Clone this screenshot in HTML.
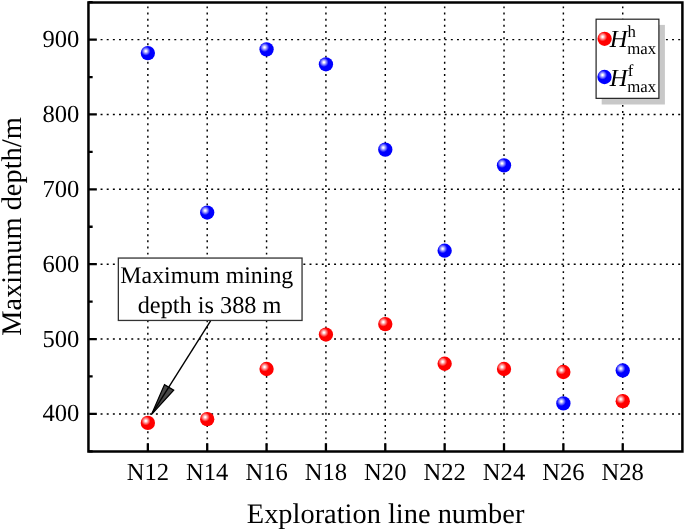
<!DOCTYPE html><html><head><meta charset="utf-8"><style>html,body{margin:0;padding:0;background:#fff;}svg{display:block;will-change:transform;}text{font-family:"Liberation Serif",serif;text-rendering:geometricPrecision;}</style></head><body>
<svg width="685" height="530" viewBox="0 0 685 530">
<defs><radialGradient id="gr" cx="0.36" cy="0.36" r="0.32" fx="0.36" fy="0.36"><stop offset="0" stop-color="#fff"/><stop offset="0.12" stop-color="#fff"/><stop offset="1" stop-color="#f00"/></radialGradient><radialGradient id="gb" cx="0.36" cy="0.36" r="0.32" fx="0.36" fy="0.36"><stop offset="0" stop-color="#fff"/><stop offset="0.12" stop-color="#fff"/><stop offset="1" stop-color="#00f"/></radialGradient></defs>
<path d="M100.58 413.90H682.40 M100.58 339.04H682.40 M100.58 264.18H682.40 M100.58 189.32H682.40 M100.58 114.46H682.40 M100.58 39.60H682.40" stroke="#000" stroke-width="1.45" stroke-dasharray="1.95 4.195" fill="none"/>
<path d="M147.85 6.39V451.50 M207.21 6.39V451.50 M266.57 6.39V451.50 M325.93 6.39V451.50 M385.29 6.39V451.50 M444.65 6.39V451.50 M504.01 6.39V451.50 M563.37 6.39V451.50 M622.73 6.39V451.50" stroke="#000" stroke-width="1.45" stroke-dasharray="1.95 4.207" fill="none"/>
<path d="M88.45 413.90H96.85 M88.45 339.04H96.85 M88.45 264.18H96.85 M88.45 189.32H96.85 M88.45 114.46H96.85 M88.45 39.60H96.85 M88.45 451.33H92.65 M88.45 376.47H92.65 M88.45 301.61H92.65 M88.45 226.75H92.65 M88.45 151.89H92.65 M88.45 77.03H92.65 M88.45 2.17H92.65 M147.85 451.50V443.30 M207.21 451.50V443.30 M266.57 451.50V443.30 M325.93 451.50V443.30 M385.29 451.50V443.30 M444.65 451.50V443.30 M504.01 451.50V443.30 M563.37 451.50V443.30 M622.73 451.50V443.30" stroke="#000" stroke-width="2.3" fill="none"/>
<rect x="88.45" y="2.5" width="593.95" height="449.00" fill="none" stroke="#000" stroke-width="2.5"/>
<text x="79.4" y="421.40" font-size="24.6" text-anchor="end">400</text>
<text x="79.4" y="346.54" font-size="24.6" text-anchor="end">500</text>
<text x="79.4" y="271.68" font-size="24.6" text-anchor="end">600</text>
<text x="79.4" y="196.82" font-size="24.6" text-anchor="end">700</text>
<text x="79.4" y="121.96" font-size="24.6" text-anchor="end">800</text>
<text x="79.4" y="47.10" font-size="24.6" text-anchor="end">900</text>
<text x="147.85" y="479.5" font-size="24.6" text-anchor="middle">N12</text>
<text x="207.21" y="479.5" font-size="24.6" text-anchor="middle">N14</text>
<text x="266.57" y="479.5" font-size="24.6" text-anchor="middle">N16</text>
<text x="325.93" y="479.5" font-size="24.6" text-anchor="middle">N18</text>
<text x="385.29" y="479.5" font-size="24.6" text-anchor="middle">N20</text>
<text x="444.65" y="479.5" font-size="24.6" text-anchor="middle">N22</text>
<text x="504.01" y="479.5" font-size="24.6" text-anchor="middle">N24</text>
<text x="563.37" y="479.5" font-size="24.6" text-anchor="middle">N26</text>
<text x="622.73" y="479.5" font-size="24.6" text-anchor="middle">N28</text>
<text x="385.6" y="522.8" font-size="28.4" text-anchor="middle">Exploration line number</text>
<text transform="translate(21,226.5) rotate(-90)" font-size="28.4" text-anchor="middle">Maximum depth/m</text>
<rect x="118.35" y="258.05" width="183.7" height="62.4" fill="#fff" stroke="#333" stroke-width="1.3"/>
<text x="206.8" y="283.2" font-size="23.85" text-anchor="middle">Maximum mining</text>
<text x="209.6" y="312.6" font-size="24.3" text-anchor="middle">depth is 388 m</text>
<path d="M151.4 414.7L164.5 384.6L173.7 390.2Z" fill="#474747" stroke="#000" stroke-width="1.25" stroke-linejoin="miter"/>
<path d="M210.6 320.8L152.2 413.4" stroke="#000" stroke-width="1.4" fill="none"/>
<circle cx="147.85" cy="422.88" r="7.15" fill="url(#gr)"/>
<circle cx="207.21" cy="419.14" r="7.15" fill="url(#gr)"/>
<circle cx="266.57" cy="368.98" r="7.15" fill="url(#gr)"/>
<circle cx="325.93" cy="334.55" r="7.15" fill="url(#gr)"/>
<circle cx="385.29" cy="324.07" r="7.15" fill="url(#gr)"/>
<circle cx="444.65" cy="363.74" r="7.15" fill="url(#gr)"/>
<circle cx="504.01" cy="368.98" r="7.15" fill="url(#gr)"/>
<circle cx="563.37" cy="371.98" r="7.15" fill="url(#gr)"/>
<circle cx="622.73" cy="401.17" r="7.15" fill="url(#gr)"/>
<circle cx="147.85" cy="53.07" r="7.15" fill="url(#gb)"/>
<circle cx="207.21" cy="212.53" r="7.15" fill="url(#gb)"/>
<circle cx="266.57" cy="49.33" r="7.15" fill="url(#gb)"/>
<circle cx="325.93" cy="64.30" r="7.15" fill="url(#gb)"/>
<circle cx="385.29" cy="149.64" r="7.15" fill="url(#gb)"/>
<circle cx="444.65" cy="250.71" r="7.15" fill="url(#gb)"/>
<circle cx="504.01" cy="165.36" r="7.15" fill="url(#gb)"/>
<circle cx="563.37" cy="403.42" r="7.15" fill="url(#gb)"/>
<circle cx="622.73" cy="370.48" r="7.15" fill="url(#gb)"/>
<rect x="601.7" y="24.9" width="63.2" height="79.6" fill="#c8c8c8"/>
<rect x="596.1" y="19.2" width="62.8" height="79.15" fill="#fff" stroke="#222" stroke-width="1.2"/>
<circle cx="604.60" cy="38.80" r="7.15" fill="url(#gr)"/>
<circle cx="604.50" cy="77.00" r="7.15" fill="url(#gb)"/>
<text x="609.8" y="47.0" font-size="24.6" font-style="italic">H</text>
<text x="627.6" y="37.0" font-size="16.8">h</text>
<text x="627.2" y="53.6" font-size="16.8">max</text>
<text x="609.8" y="85.6" font-size="24.6" font-style="italic">H</text>
<text x="627.8" y="75.8" font-size="16.8">f</text>
<text x="627.2" y="91.9" font-size="16.8">max</text>
</svg></body></html>
